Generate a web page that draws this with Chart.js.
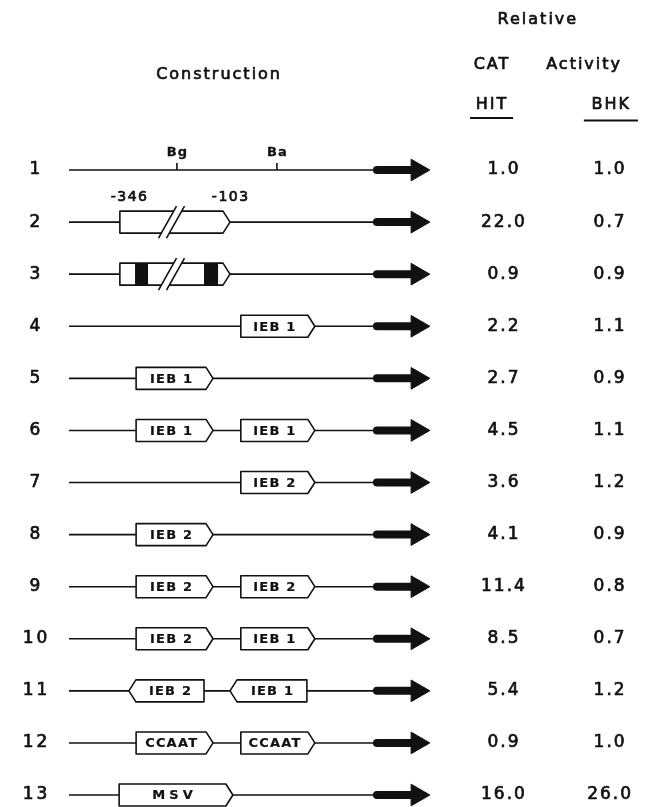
<!DOCTYPE html>
<html>
<head>
<meta charset="utf-8">
<script src="https://cdn.jsdelivr.net/npm/chart.js@4.4.0/dist/chart.umd.min.js"></script>
<style>
  html, body { margin: 0; padding: 0; background: #fff; }
  #wrap { width: 647px; height: 807px; position: relative; }
</style>
</head>
<body>
<div id="wrap"><canvas id="chart"></canvas></div>
<script>
// rows of the table
const rowNumbers = ['1', '2', '3', '4', '5', '6', '7', '8', '9', '10', '11', '12', '13'];
const hitActivity = ['1.0', '22.0', '0.9', '2.2', '2.7', '4.5', '3.6', '4.1', '11.4', '8.5', '5.4', '0.9', '16.0'];
const bhkActivity = ['1.0', '0.7', '0.9', '1.1', '0.9', '1.1', '1.2', '0.9', '0.8', '0.7', '1.2', '1.0', '26.0'];

// construct map, in map units (0 = start of line, 100 = arrow tip)
const shaftStart = 85.3;
const headCenter = 96.5;
const sites = [{label: 'Bg', pos: 29.9}, {label: 'Ba', pos: 57.6}];
const endpoints = [{label: '-346', pos: 16.6}, {label: '-103', pos: 44.6}];
const elements = [
  {row: 2, from: 14.1, to: 44.6, dir: 1, label: '', brk: 28.4},
  {row: 3, from: 14.1, to: 44.6, dir: 1, label: '', brk: 28.4, bands: [[18.3, 21.9], [37.4, 41.3]]},
  {row: 4, from: 47.6, to: 68.1, dir: 1, label: 'IEB 1'},
  {row: 5, from: 18.6, to: 39.9, dir: 1, label: 'IEB 1'},
  {row: 6, from: 18.6, to: 39.9, dir: 1, label: 'IEB 1'},
  {row: 6, from: 47.6, to: 68.1, dir: 1, label: 'IEB 1'},
  {row: 7, from: 47.6, to: 68.1, dir: 1, label: 'IEB 2'},
  {row: 8, from: 18.6, to: 39.9, dir: 1, label: 'IEB 2'},
  {row: 9, from: 18.6, to: 39.9, dir: 1, label: 'IEB 2'},
  {row: 9, from: 47.6, to: 68.1, dir: 1, label: 'IEB 2'},
  {row: 10, from: 18.6, to: 39.9, dir: 1, label: 'IEB 2'},
  {row: 10, from: 47.6, to: 68.1, dir: 1, label: 'IEB 1'},
  {row: 11, from: 16.6, to: 37.4, dir: -1, label: 'IEB 2'},
  {row: 11, from: 44.6, to: 65.9, dir: -1, label: 'IEB 1'},
  {row: 12, from: 18.6, to: 39.9, dir: 1, label: 'CCAAT'},
  {row: 12, from: 47.6, to: 68.1, dir: 1, label: 'CCAAT'},
  {row: 13, from: 13.9, to: 45.4, dir: 1, label: 'MSV'}
];

// layout of the text columns (map units / row units)
const rowLabelX = -9.4;
const hitX = 120.2;
const bhkX = 149.6;
const headers = [
  {text: 'Relative', x: 129.6, y: -1.88},
  {text: 'CAT', x: 116.9, y: -1.02},
  {text: 'Activity', x: 142.4, y: -1.02},
  {text: 'Construction', x: 41.3, y: -0.82},
  {text: 'HIT', x: 116.9, y: -0.25},
  {text: 'BHK', x: 149.9, y: -0.25}
];
const underlines = [{from: 111.1, to: 123.0, y: 0.0}, {from: 142.6, to: 157.6, y: 0.05}];

const INK = '#111';
const FONT = '"DejaVu Sans", sans-serif';

const datasets = [];
rowNumbers.forEach((n, i) => {
  const r = i + 1;
  datasets.push({
    data: [{x: 0, y: r}, {x: shaftStart, y: r}],
    borderColor: INK, borderWidth: 1.6, pointRadius: 0
  });
  datasets.push({
    data: [{x: shaftStart, y: r}, {x: headCenter, y: r}],
    borderColor: INK, borderWidth: 8, borderCapStyle: 'round',
    pointStyle: 'triangle', rotation: 90,
    pointRadius: c => c.dataIndex === 1 ? 12.5 : 0,
    pointBackgroundColor: INK, pointBorderColor: INK, pointBorderWidth: 1
  });
});

function text(ctx, s, x, y, font, spacing, weight) {
  ctx.font = font;
  ctx.letterSpacing = (spacing || 0) + 'px';
  ctx.textAlign = 'center';
  ctx.textBaseline = 'middle';
  const px = x + (spacing || 0) / 2;
  ctx.fillText(s, px, y);
  ctx.lineWidth = weight === undefined ? 0.7 : weight;
  if (ctx.lineWidth > 0) ctx.strokeText(s, px, y);
}

const diagram = {
  id: 'diagram',
  afterDatasetsDraw(chart) {
    const ctx = chart.ctx;
    const sx = chart.scales.x, sy = chart.scales.y;
    const X = v => sx.getPixelForValue(v);
    const Y = v => sy.getPixelForValue(v);
    ctx.save();
    ctx.fillStyle = INK;
    ctx.strokeStyle = INK;
    ctx.lineJoin = 'round';

    headers.forEach(h => text(ctx, h.text, X(h.x), Y(h.y), '16px ' + FONT, 2));
    ctx.lineWidth = 2;
    underlines.forEach(u => {
      ctx.beginPath();
      ctx.moveTo(X(u.from), Y(u.y));
      ctx.lineTo(X(u.to), Y(u.y));
      ctx.stroke();
    });

    rowNumbers.forEach((n, i) => {
      const y = Y(i + 1);
      text(ctx, n, X(rowLabelX), y, '17px ' + FONT, 3);
      text(ctx, hitActivity[i], X(hitX), y, '17px ' + FONT, 2);
      text(ctx, bhkActivity[i], X(bhkX), y, '17px ' + FONT, 2);
    });

    // restriction sites on construct 1
    sites.forEach(s => {
      ctx.lineWidth = 1.6;
      ctx.beginPath();
      ctx.moveTo(X(s.pos), Y(1));
      ctx.lineTo(X(s.pos), Y(1) - 7);
      ctx.stroke();
      text(ctx, s.label, X(s.pos), Y(1) - 17, 'bold 13px ' + FONT, 1, 0.3);
    });
    endpoints.forEach(e => text(ctx, e.label, X(e.pos), Y(2) - 25, '14px ' + FONT, 1.5));

    const h = 22, tip = 7;
    elements.forEach(el => {
      const x0 = X(el.from), x1 = X(el.to), yc = Y(el.row);
      const top = yc - h / 2, bot = yc + h / 2;
      ctx.beginPath();
      if (el.dir > 0) {
        ctx.moveTo(x0, top); ctx.lineTo(x1 - tip, top); ctx.lineTo(x1, yc);
        ctx.lineTo(x1 - tip, bot); ctx.lineTo(x0, bot);
      } else {
        ctx.moveTo(x1, top); ctx.lineTo(x0 + tip, top); ctx.lineTo(x0, yc);
        ctx.lineTo(x0 + tip, bot); ctx.lineTo(x1, bot);
      }
      ctx.closePath();
      ctx.fillStyle = '#fff';
      ctx.fill();
      ctx.lineWidth = 1.6;
      ctx.stroke();
      ctx.fillStyle = INK;
      (el.bands || []).forEach(b => {
        ctx.fillRect(X(b[0]), top, X(b[1]) - X(b[0]), h);
      });
      if (el.brk !== undefined) {
        const bx = X(el.brk), dx = 9, dy = 16, gap = 8;
        ctx.beginPath();
        ctx.moveTo(bx - gap / 2 - dx, yc + dy);
        ctx.lineTo(bx - gap / 2 + dx, yc - dy);
        ctx.lineTo(bx + gap / 2 + dx, yc - dy);
        ctx.lineTo(bx + gap / 2 - dx, yc + dy);
        ctx.closePath();
        ctx.fillStyle = '#fff';
        ctx.fill();
        ctx.fillStyle = INK;
        ctx.lineWidth = 1.6;
        ctx.beginPath();
        ctx.moveTo(bx - gap / 2 - dx, yc + dy);
        ctx.lineTo(bx - gap / 2 + dx, yc - dy);
        ctx.moveTo(bx + gap / 2 - dx, yc + dy);
        ctx.lineTo(bx + gap / 2 + dx, yc - dy);
        ctx.stroke();
      }
      if (el.label) {
        const cx = el.dir > 0 ? (x0 + x1 - tip) / 2 : (x0 + tip + x1) / 2;
        text(ctx, el.label, cx, yc + 1, 'bold 13px ' + FONT, el.label === 'MSV' ? 4 : 1.2, 0.2);
      }
    });
    ctx.restore();
  }
};

const chart = new Chart(document.getElementById('chart').getContext('2d'), {
  type: 'line',
  data: {datasets: datasets},
  options: {
    animation: false,
    responsive: true,
    maintainAspectRatio: false,
    layout: {padding: 0, autoPadding: false},
    plugins: {legend: {display: false}, tooltip: {enabled: false}},
    scales: {
      x: {type: 'linear', min: -19.1, max: 160.1, display: false},
      y: {type: 'linear', min: -2.264, max: 13.23, reverse: true, display: false}
    }
  },
  plugins: [diagram]
});
</script>
</body>
</html>
